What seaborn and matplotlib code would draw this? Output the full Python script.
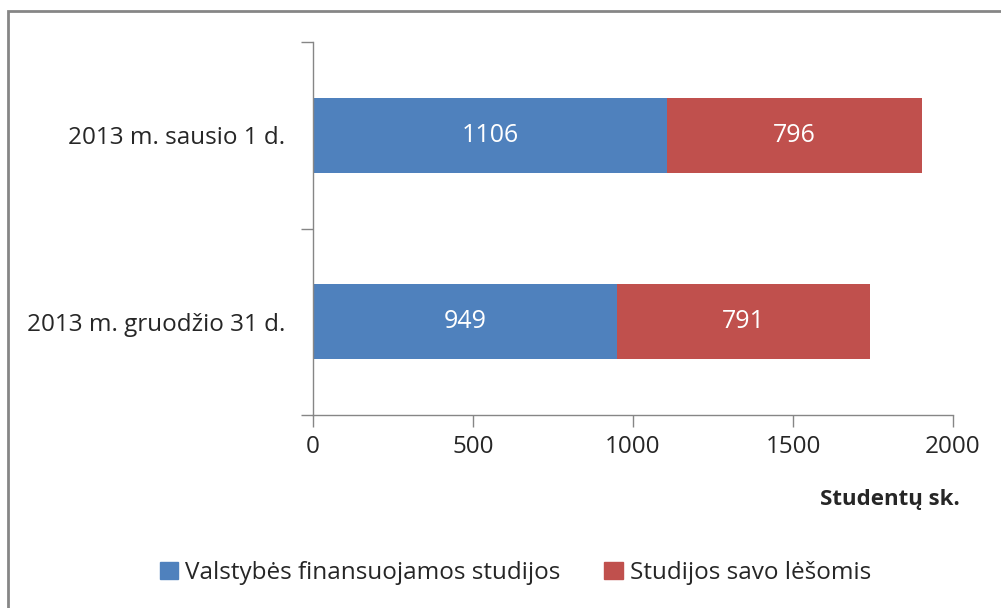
import pandas as pd
import matplotlib
matplotlib.use("Agg")
import matplotlib.pyplot as plt
from matplotlib.patches import Rectangle
import seaborn as sns

# data
dates = ["2013 m. sausio 1 d.", "2013 m. gruodžio 31 d."]
state_funded = [1106, 949]
self_funded = [796, 791]
series_names = ["Valstybės finansuojamos studijos", "Studijos savo lėšomis"]
x_ticks = [0, 500, 1000, 1500, 2000]

BLUE = "#4F81BD"
RED = "#C0504D"
GRAY = "#868686"
FS = 17.5

sns.set_style("white")
plt.rcParams["font.family"] = ["Open Sans", "DejaVu Sans"]

df = pd.DataFrame({"date": dates, "state": state_funded, "own": self_funded})
df["total"] = df["state"] + df["own"]

fig = plt.figure(figsize=(10.01, 6.08), dpi=100)
ax = fig.add_axes([313 / 1001, 1 - 415 / 608, 640 / 1001, 373 / 608])

# stacked bars: totals first, then the first segment on top
sns.barplot(data=df, x="total", y="date", orient="h", color=RED, width=0.4,
            saturation=1, ax=ax, linewidth=0)
sns.barplot(data=df, x="state", y="date", orient="h", color=BLUE, width=0.4,
            saturation=1, ax=ax, linewidth=0)

for i, row in df.iterrows():
    ax.text(row["state"] / 2, i, str(row["state"]), color="white",
            ha="center", va="center", fontsize=18)
    ax.text(row["state"] + row["own"] / 2, i, str(row["own"]), color="white",
            ha="center", va="center", fontsize=18)

ax.set_xlim(0, 2000)
ax.set_ylim(1.5, -0.5)
ax.set_xticks(x_ticks)
ax.set_xticklabels([str(t) for t in x_ticks], fontsize=FS)
ax.set_yticks([-0.5, 0.5, 1.5])
ax.set_yticklabels([])
ax.set_yticks([0, 1], minor=True)
ax.set_yticklabels(dates, minor=True, fontsize=FS)
ax.tick_params(axis="y", which="major", direction="out", length=8.6,
               color=GRAY, width=1, left=True)
ax.tick_params(axis="y", which="minor", length=0, pad=20)
ax.tick_params(axis="x", direction="out", length=8.6, color=GRAY, width=1,
               bottom=True, pad=6)
ax.set_xlabel("")
ax.set_ylabel("")
for side in ["top", "right"]:
    ax.spines[side].set_visible(False)
for side in ["left", "bottom"]:
    ax.spines[side].set_color(GRAY)
    ax.spines[side].set_linewidth(1)

fig.text(960 / 1001, 1 - 500 / 608, "Studentų sk.", ha="right", va="center",
         fontsize=16, fontweight="bold")

handles = [Rectangle((0, 0), 1, 1, color=BLUE), Rectangle((0, 0), 1, 1, color=RED)]
fig.legend(handles, series_names, loc="center", bbox_to_anchor=(0.515, 1 - 573 / 608),
           ncol=2, frameon=False, fontsize=FS, handlelength=0.75, handleheight=0.75,
           handletextpad=0.3, columnspacing=1.8)

fig.patches.append(Rectangle((8 / 1001, -0.01), 1.0, 1 - 11 / 608 + 0.01,
                             transform=fig.transFigure, fill=False,
                             edgecolor=GRAY, linewidth=2))

fig.savefig("out.png", dpi=100)
